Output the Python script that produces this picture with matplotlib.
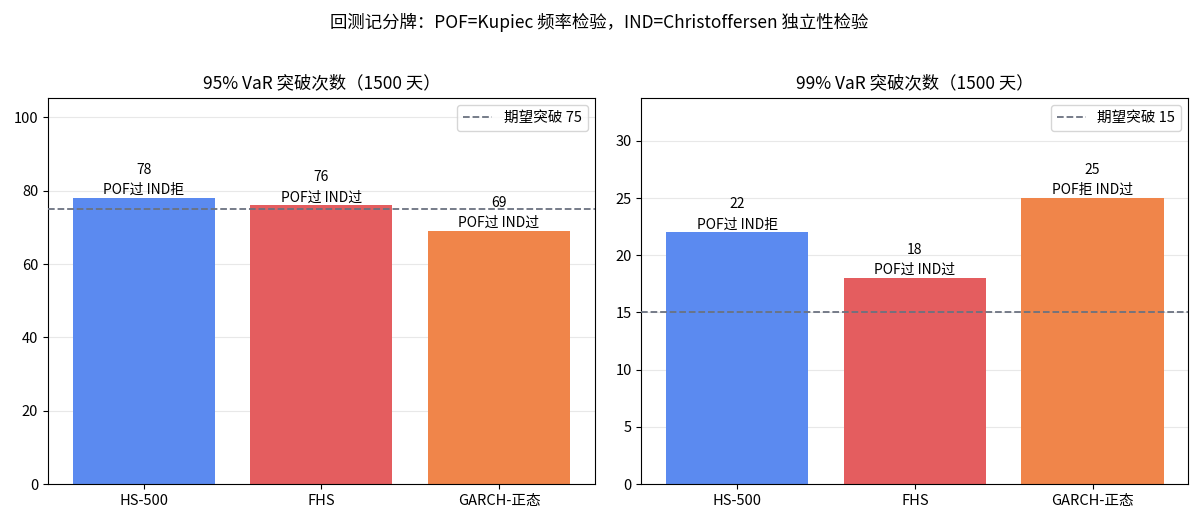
import matplotlib
matplotlib.use("Agg")
import matplotlib.pyplot as plt

plt.rcParams['font.family'] = ['Noto Sans CJK SC', 'DejaVu Sans']
plt.rcParams['axes.unicode_minus'] = False

models = ["HS-500", "FHS", "GARCH-正态"]
colors = ["#5b8af0", "#e45d5f", "#f0854a"]

breaches_95 = [78, 76, 69]
tests_95 = ["POF过 IND拒", "POF过 IND过", "POF过 IND过"]
expected_95 = 75

breaches_99 = [22, 18, 25]
tests_99 = ["POF过 IND拒", "POF过 IND过", "POF拒 IND过"]
expected_99 = 15

panels = [
    ("95% VaR 突破次数（1500 天）", breaches_95, tests_95, expected_95),
    ("99% VaR 突破次数（1500 天）", breaches_99, tests_99, expected_99),
]

fig, axes = plt.subplots(1, 2, figsize=(11.98, 5.21), dpi=100)
fig.subplots_adjust(left=0.04, right=0.992, bottom=0.071, top=0.812, wspace=0.085)

for ax, (title, vals, tests, exp) in zip(axes, panels):
    bars = ax.bar(models, vals, color=colors, zorder=2)
    ax.axhline(exp, color="#6b7280", linestyle="--", linewidth=1.3,
               label=f"期望突破 {exp}", zorder=3)
    for b, v, t in zip(bars, vals, tests):
        ax.text(b.get_x() + b.get_width() / 2, v + max(vals) * 0.003,
                f"{v}\n{t}", ha="center", va="bottom", fontsize=10,
                linespacing=1.55, zorder=4)
    ax.set_ylim(0, max(vals) * 1.35)
    ax.set_title(title, fontsize=12.5, pad=7)
    ax.grid(axis="y", color="#e8e8e8", linewidth=0.8, zorder=0)
    ax.set_axisbelow(True)
    ax.tick_params(labelsize=10.5)
    ax.legend(loc="upper right", fontsize=10.5)

fig.suptitle("回测记分牌：POF=Kupiec 频率检验，IND=Christoffersen 独立性检验",
             fontsize=12.5, y=0.975)
fig.savefig("out.png", dpi=100)
